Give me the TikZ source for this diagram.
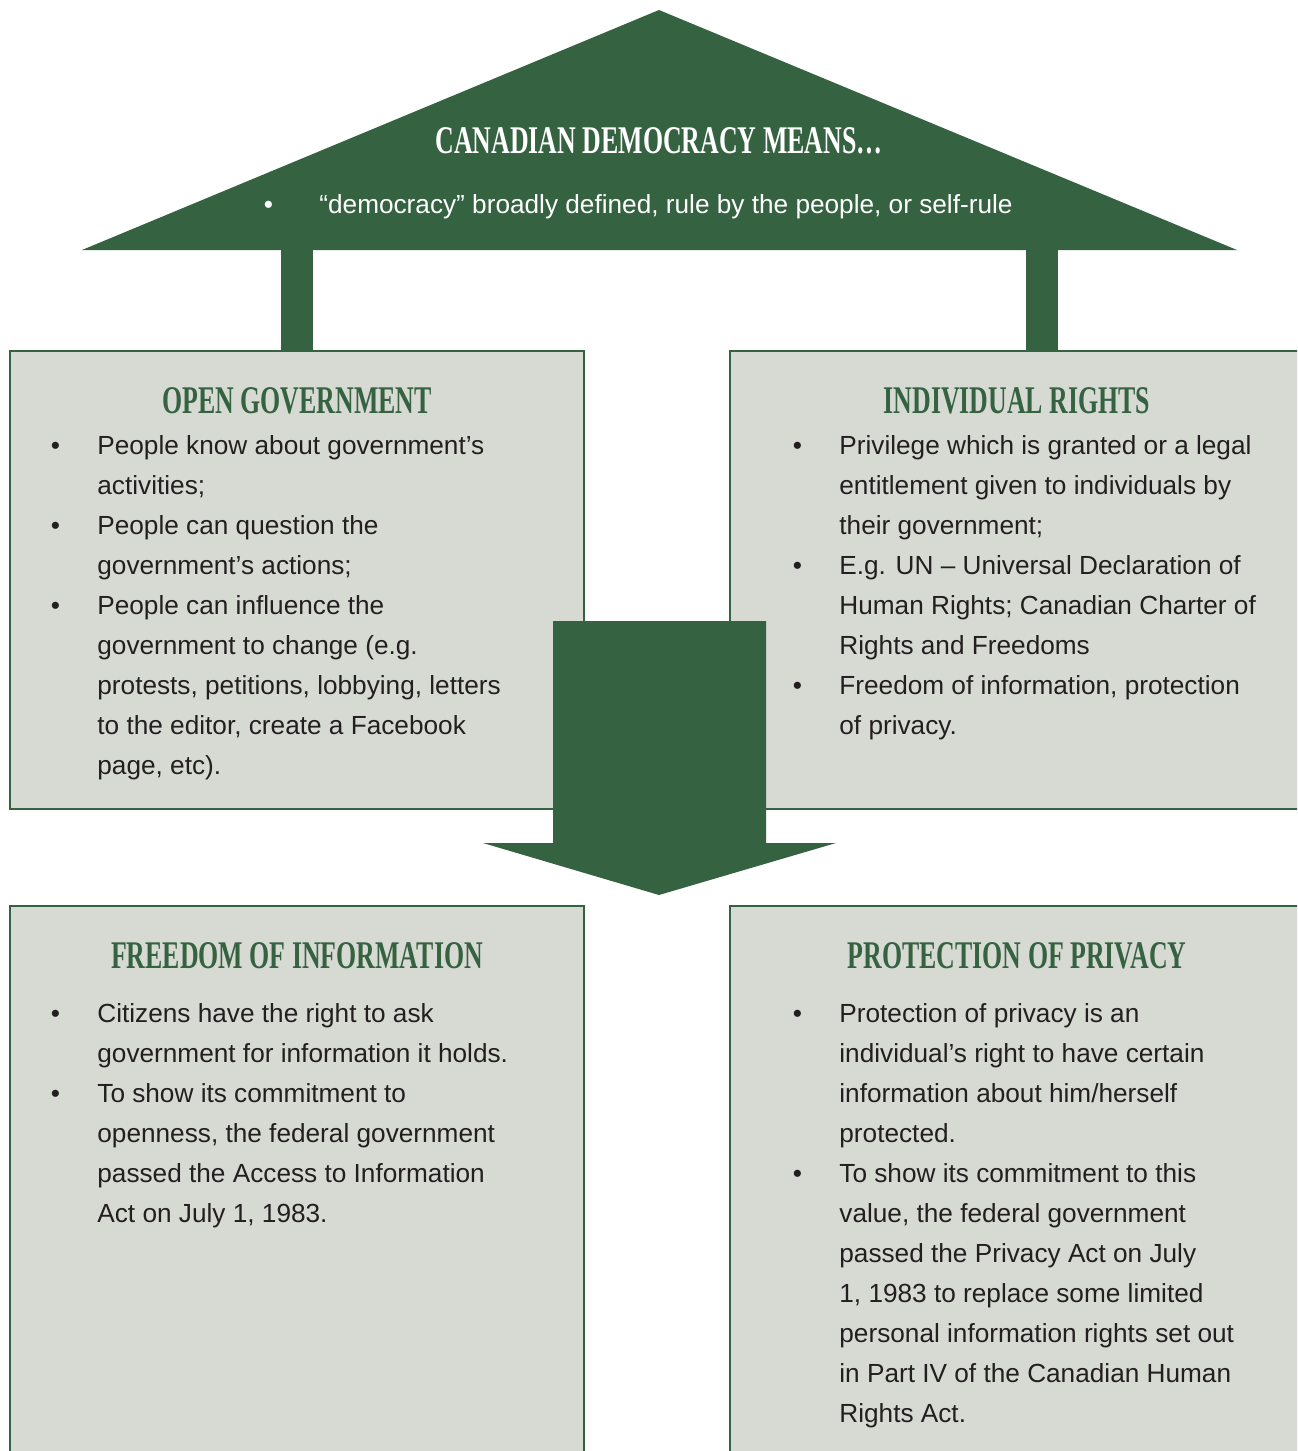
\documentclass[tikz,border=0pt]{standalone}
\usepackage{fontspec}
\setmainfont{Liberation Sans}
\newfontfamily\headfont{Liberation Serif}[FakeStretch=0.66]
\usepackage{tikz}
\usetikzlibrary{positioning}

\definecolor{leaf}{HTML}{356240}
\definecolor{sage}{HTML}{D7DAD3}
\definecolor{ink}{HTML}{231F20}

\tikzset{
  panel/.style={draw=leaf, line width=1pt, fill=sage, rectangle, inner sep=0pt,
                anchor=north west, minimum width=287pt},
  heading/.style={anchor=base, inner sep=0pt, text=leaf,
                  font=\headfont\bfseries\fontsize{19.6}{20}\selectfont},
  listtext/.style={anchor=base west, inner sep=0pt, text=ink,
                   font=\fontsize{13.1}{20}\selectfont},
  pillar/.style={draw=leaf, line width=16pt}
}

\begin{document}
\begin{tikzpicture}[x=0.5pt, y=-0.5pt]
  \useasboundingbox (0,0) rectangle (1297,1451);
  \clip (0,0) rectangle (1297,1451);

  % roof
  \coordinate (eaveL) at (82,250);
  \coordinate (ridge) at (659,10);
  \coordinate (eaveR) at (1237,250);
  \fill[leaf] (eaveL) -- (ridge) -- (eaveR) -- cycle;
  \node[heading, text=white] (roof) at (659,153) {CANADIAN DEMOCRACY MEANS\ldots};
  \node[listtext, text=white] (rooftext) at (263.5,213) {%
    \begin{tabular}[t]{@{}p{27.75pt}@{}l@{}}
      \textbullet & “democracy” broadly defined, rule by the people, or self-rule
    \end{tabular}};

  % the four panels
  \node[panel, minimum height=229pt] (open) at (9,350) {};
  \node[panel, minimum height=229pt] (rights) at (729,350) {};
  \node[panel, minimum height=280pt] (foi) at (9,905) {};
  \node[panel, minimum height=280pt] (privacy) at (729,905) {};

  % pillars under the roof
  \foreach \x/\p in {297/open, 1042/rights}
    \draw[pillar] (\x,250) -- (\x,250 |- \p.north);

  \node[heading] (openhead) at ([yshift=-31.5pt]open.north) {OPEN GOVERNMENT};
  \node[heading] (rightshead) at ([yshift=-31.5pt]rights.north) {INDIVIDUAL RIGHTS};
  \node[heading] (foihead) at ([yshift=-31.5pt]foi.north) {FREEDOM OF INFORMATION};
  \node[heading] (privacyhead) at ([yshift=-31.5pt]privacy.north) {PROTECTION OF PRIVACY};

  \node[listtext] (opentext) at ([xshift=20.75pt, yshift=-52pt]open.north west) {%
    \begin{tabular}[t]{@{}p{23.25pt}@{}l@{}}
      \textbullet & People know about government’s\\
                  & activities;\\
      \textbullet & People can question the\\
                  & government’s actions;\\
      \textbullet & People can influence the\\
                  & government to change (e.g.\\
                  & protests, petitions, lobbying, letters\\
                  & to the editor, create a Facebook\\
                  & page, etc).
    \end{tabular}};

  \node[listtext] (rightstext) at ([xshift=31.75pt, yshift=-52pt]rights.north west) {%
    \begin{tabular}[t]{@{}p{23.25pt}@{}l@{}}
      \textbullet & Privilege which is granted or a legal\\
                  & entitlement given to individuals by\\
                  & their government;\\
      \textbullet & E.g. UN – Universal Declaration of\\
                  & Human Rights; Canadian Charter of\\
                  & Rights and Freedoms\\
      \textbullet & Freedom of information, protection\\
                  & of privacy.
    \end{tabular}};

  \node[listtext] (foitext) at ([xshift=20.75pt, yshift=-58.5pt]foi.north west) {%
    \begin{tabular}[t]{@{}p{23.25pt}@{}l@{}}
      \textbullet & Citizens have the right to ask\\
                  & government for information it holds.\\
      \textbullet & To show its commitment to\\
                  & openness, the federal government\\
                  & passed the Access to Information\\
                  & Act on July 1, 1983.
    \end{tabular}};

  \node[listtext] (privacytext) at ([xshift=31.75pt, yshift=-58.5pt]privacy.north west) {%
    \begin{tabular}[t]{@{}p{23.25pt}@{}l@{}}
      \textbullet & Protection of privacy is an\\
                  & individual’s right to have certain\\
                  & information about him/herself\\
                  & protected.\\
      \textbullet & To show its commitment to this\\
                  & value, the federal government\\
                  & passed the Privacy Act on July\\
                  & 1, 1983 to replace some limited\\
                  & personal information rights set out\\
                  & in Part IV of the Canadian Human\\
                  & Rights Act.
    \end{tabular}};

  % big arrow down the middle
  \fill[leaf] (553,621) -- (766,621) -- (766,843) -- (836,843) -- (659,895)
    -- (483,843) -- (553,843) -- cycle;
\end{tikzpicture}
\end{document}
